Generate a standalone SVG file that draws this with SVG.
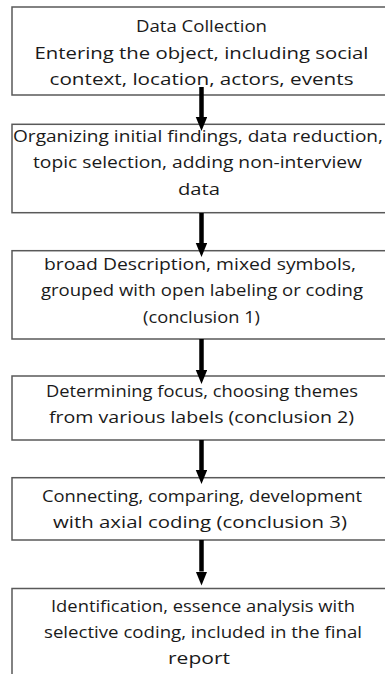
<svg xmlns="http://www.w3.org/2000/svg" width="385" height="674" viewBox="0 0 385 674">
<style>
.box{fill:#ffffff;stroke:#595959;stroke-width:1.5}
.t{font-family:"Open Sans","Noto Sans","Liberation Sans",sans-serif;font-size:17px;fill:#1a1a1a;text-anchor:middle}
.conn{stroke:#000000;stroke-width:4.5;fill:none}
</style>
<defs>
<marker id="ah" markerUnits="userSpaceOnUse" markerWidth="14" markerHeight="12" refX="0" refY="5.75" orient="auto">
<path d="M0,0 L14,5.75 L0,11.5 Z" fill="#000000"/>
</marker>
</defs>
<rect width="385" height="674" fill="#ffffff"/>
<g id="n1">
<rect class="box" x="12" y="7" width="380" height="88"/>
<text class="t" x="201.5" y="32" textLength="131" lengthAdjust="spacingAndGlyphs">Data Collection</text>
<text class="t" x="201.5" y="58.5" textLength="334" lengthAdjust="spacingAndGlyphs">Entering the object, including social</text>
<text class="t" x="201.5" y="85" textLength="304" lengthAdjust="spacingAndGlyphs">context, location, actors, events</text>
</g>
<g id="n2">
<rect class="box" x="12" y="124.3" width="380" height="88.4"/>
<text class="t" x="198" y="142" textLength="370" lengthAdjust="spacingAndGlyphs">Organizing initial findings, data reduction,</text>
<text class="t" x="197.5" y="168" textLength="329" lengthAdjust="spacingAndGlyphs">topic selection, adding non-interview</text>
<text class="t" x="199" y="195" textLength="42" lengthAdjust="spacingAndGlyphs">data</text>
</g>
<g id="n3">
<rect class="box" x="12" y="250.7" width="380" height="88.3"/>
<text class="t" x="200" y="270" textLength="312" lengthAdjust="spacingAndGlyphs">broad Description, mixed symbols,</text>
<text class="t" x="202" y="296" textLength="322" lengthAdjust="spacingAndGlyphs">grouped with open labeling or coding</text>
<text class="t" x="201.5" y="322.5" textLength="117" lengthAdjust="spacingAndGlyphs">(conclusion 1)</text>
</g>
<g id="n4">
<rect class="box" x="12" y="376" width="380" height="64"/>
<text class="t" x="202" y="397" textLength="312" lengthAdjust="spacingAndGlyphs">Determining focus, choosing themes</text>
<text class="t" x="201.5" y="423" textLength="305" lengthAdjust="spacingAndGlyphs">from various labels (conclusion 2)</text>
</g>
<g id="n5">
<rect class="box" x="12" y="477.7" width="380" height="62.3"/>
<text class="t" x="202" y="502" textLength="320" lengthAdjust="spacingAndGlyphs">Connecting, comparing, development</text>
<text class="t" x="200" y="528" textLength="294" lengthAdjust="spacingAndGlyphs">with axial coding (conclusion 3)</text>
</g>
<g id="n6">
<rect class="box" x="12" y="588.5" width="380" height="100"/>
<text class="t" x="203" y="612" textLength="304" lengthAdjust="spacingAndGlyphs">Identification, essence analysis with</text>
<text class="t" x="203" y="638" textLength="318" lengthAdjust="spacingAndGlyphs">selective coding, included in the final</text>
<text class="t" x="199" y="664" textLength="62" lengthAdjust="spacingAndGlyphs">report</text>
</g>
<g id="connectors">
<line class="conn" x1="201.5" y1="87" x2="201.5" y2="117" marker-end="url(#ah)"/>
<line class="conn" x1="201.5" y1="213" x2="201.5" y2="243" marker-end="url(#ah)"/>
<line class="conn" x1="201.5" y1="339" x2="201.5" y2="370" marker-end="url(#ah)"/>
<line class="conn" x1="201.5" y1="440" x2="201.5" y2="470" marker-end="url(#ah)"/>
<line class="conn" x1="201.5" y1="540" x2="201.5" y2="571.5" marker-end="url(#ah)"/>
</g>
</svg>
